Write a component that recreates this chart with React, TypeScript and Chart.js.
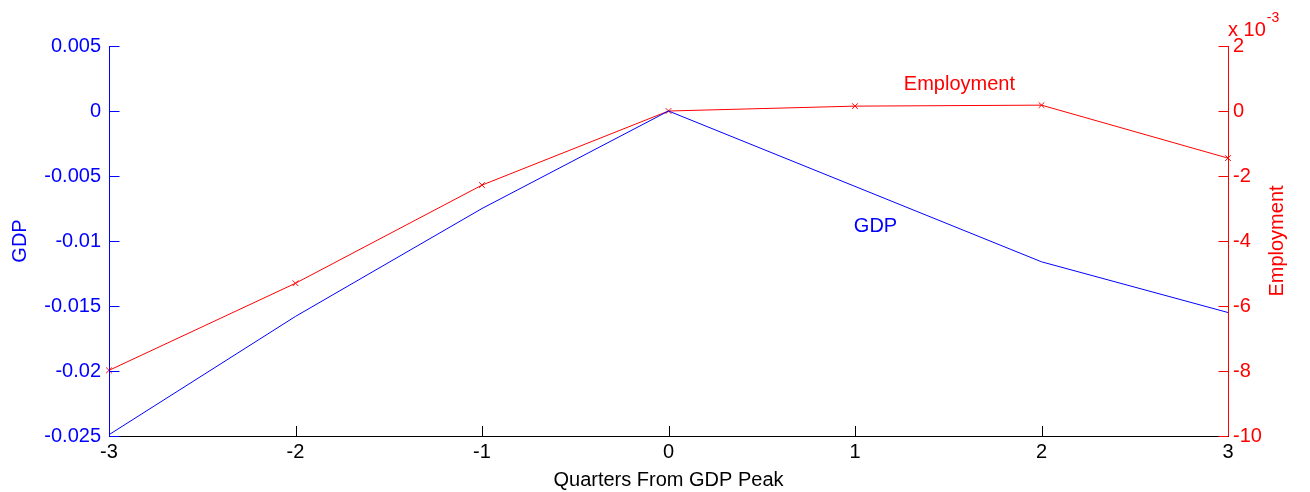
import React, { useEffect, useRef } from "react";
import { Chart, registerables } from "chart.js";

Chart.register(...registerables);

// ---- data ----
const quarters = [-3, -2, -1, 0, 1, 2, 3];
const gdp = [-0.0249, -0.0158, -0.0075, 0, -0.0058, -0.0116, -0.0155];
// Employment, in units of 10^-3
const employment = [-7.98, -5.3, -2.28, 0, 0.15, 0.18, -1.45];

const xTicks = [-3, -2, -1, 0, 1, 2, 3];
const gdpTicks = [0.005, 0, -0.005, -0.01, -0.015, -0.02, -0.025];
const gdpTickLabels = ["0.005", "0", "-0.005", "-0.01", "-0.015", "-0.02", "-0.025"];
const empTicks = [2, 0, -2, -4, -6, -8, -10];
const empTickLabels = ["2", "0", "-2", "-4", "-6", "-8", "-10"];

const BLUE = "#0000ff";
const RED = "#ff0000";
const FONT = '"Liberation Sans", Arial, Helvetica, sans-serif';

// annotation anchors (data space)
const empLabelAt = { x: 1.56, y: 0.83 };
const gdpLabelAt = { x: 1.11, y: -0.0089 };

const decorPlugin = {
  id: "matlabDecor",
  afterDraw(chart: any) {
    const { ctx, chartArea: a, scales } = chart;
    const xs = scales.x;
    const yl = scales.yGDP;
    const yr = scales.yEmp;
    const TL = 10;
    ctx.save();
    ctx.lineWidth = 1;

    // bottom axis + ticks
    ctx.strokeStyle = "#000000";
    ctx.beginPath();
    ctx.moveTo(a.left, Math.round(a.bottom) + 0.5);
    ctx.lineTo(a.right + 1, Math.round(a.bottom) + 0.5);
    for (const v of xTicks) {
      const px = Math.round(xs.getPixelForValue(v)) + 0.5;
      ctx.moveTo(px, a.bottom);
      ctx.lineTo(px, a.bottom - TL);
    }
    ctx.stroke();

    // left axis + ticks
    ctx.strokeStyle = BLUE;
    ctx.beginPath();
    const lx = Math.round(a.left) + 0.5;
    ctx.moveTo(lx, a.top);
    ctx.lineTo(lx, a.bottom);
    for (const v of gdpTicks) {
      const py = Math.round(yl.getPixelForValue(v)) + 0.5;
      ctx.moveTo(lx, py);
      ctx.lineTo(lx + TL, py);
    }
    ctx.stroke();

    // right axis + ticks
    ctx.strokeStyle = RED;
    ctx.beginPath();
    const rx = Math.round(a.right) + 0.5;
    ctx.moveTo(rx, a.top);
    ctx.lineTo(rx, a.bottom);
    for (const v of empTicks) {
      const py = Math.round(yr.getPixelForValue(v)) + 0.5;
      ctx.moveTo(rx, py);
      ctx.lineTo(rx - TL, py);
    }
    ctx.stroke();

    // titles
    ctx.textAlign = "center";
    ctx.textBaseline = "middle";
    ctx.font = `20px ${FONT}`;
    ctx.fillStyle = "#000000";
    ctx.fillText("Quarters From GDP Peak", (a.left + a.right) / 2, 480);

    const midY = (a.top + a.bottom) / 2;
    ctx.save();
    ctx.translate(20, midY);
    ctx.rotate(-Math.PI / 2);
    ctx.fillStyle = BLUE;
    ctx.fillText("GDP", 0, 0);
    ctx.restore();

    ctx.save();
    ctx.translate(1277, midY);
    ctx.rotate(-Math.PI / 2);
    ctx.fillStyle = RED;
    ctx.fillText("Employment", 0, 0);
    ctx.restore();

    // exponent label
    ctx.fillStyle = RED;
    ctx.textAlign = "left";
    ctx.font = `20px ${FONT}`;
    ctx.fillText("x 10", 1228, 30);
    const w = ctx.measureText("x 10").width;
    ctx.font = `14px ${FONT}`;
    ctx.fillText("-3", 1228 + w + 1, 18);

    // in-plot annotations
    ctx.textAlign = "center";
    ctx.font = `20px ${FONT}`;
    ctx.fillStyle = RED;
    ctx.fillText("Employment", xs.getPixelForValue(empLabelAt.x), yr.getPixelForValue(empLabelAt.y));
    ctx.fillStyle = BLUE;
    ctx.fillText("GDP", xs.getPixelForValue(gdpLabelAt.x), yl.getPixelForValue(gdpLabelAt.y));

    ctx.restore();
  },
};

export default function App() {
  const ref = useRef<HTMLCanvasElement | null>(null);

  useEffect(() => {
    document.body.style.margin = "0";
    if (!ref.current) return;
    Chart.defaults.font.family = FONT;
    Chart.defaults.font.size = 20;

    const chart = new Chart(ref.current, {
      type: "line",
      data: {
        datasets: [
          {
            label: "GDP",
            data: quarters.map((q, i) => ({ x: q, y: gdp[i] })),
            yAxisID: "yGDP",
            borderColor: BLUE,
            backgroundColor: BLUE,
            borderWidth: 1,
            pointRadius: 0,
            tension: 0,
            clip: false as any,
          },
          {
            label: "Employment",
            data: quarters.map((q, i) => ({ x: q, y: employment[i] })),
            yAxisID: "yEmp",
            borderColor: RED,
            backgroundColor: RED,
            borderWidth: 1,
            pointStyle: "crossRot",
            pointRadius: 4,
            pointBorderWidth: 1,
            pointBorderColor: RED,
            tension: 0,
            clip: false as any,
          },
        ],
      },
      options: {
        animation: false,
        responsive: true,
        maintainAspectRatio: false,
        layout: { padding: { top: 46, left: 0, right: 0, bottom: 0 } },
        plugins: {
          legend: { display: false },
          tooltip: { enabled: false },
        },
        scales: {
          x: {
            type: "linear",
            position: "bottom",
            min: -3,
            max: 3,
            grid: { display: false, drawTicks: false },
            border: { display: false },
            afterBuildTicks: (s: any) => {
              s.ticks = xTicks.map((v) => ({ value: v }));
            },
            afterFit: (s: any) => {
              s.height = 56;
            },
            ticks: {
              color: "#000000",
              padding: 4,
              maxRotation: 0,
              autoSkip: false,
              font: { size: 20 },
              callback: (v: any) => String(v),
            },
          },
          yGDP: {
            type: "linear",
            position: "left",
            min: -0.025,
            max: 0.005,
            grid: { display: false, drawTicks: false },
            border: { display: false },
            afterBuildTicks: (s: any) => {
              s.ticks = gdpTicks.map((v) => ({ value: v }));
            },
            afterFit: (s: any) => {
              s.width = 109;
            },
            ticks: {
              color: BLUE,
              padding: 8,
              autoSkip: false,
              font: { size: 20 },
              callback: (v: any) => {
                const i = gdpTicks.findIndex((t) => Math.abs(t - v) < 1e-9);
                return i >= 0 ? gdpTickLabels[i] : "";
              },
            },
          },
          yEmp: {
            type: "linear",
            position: "right",
            min: -10,
            max: 2,
            grid: { display: false, drawTicks: false },
            border: { display: false },
            afterBuildTicks: (s: any) => {
              s.ticks = empTicks.map((v) => ({ value: v }));
            },
            afterFit: (s: any) => {
              s.width = 82;
            },
            ticks: {
              color: RED,
              padding: 5,
              autoSkip: false,
              font: { size: 20 },
              callback: (v: any) => {
                const i = empTicks.findIndex((t) => Math.abs(t - v) < 1e-9);
                return i >= 0 ? empTickLabels[i] : "";
              },
            },
          },
        },
      },
      plugins: [decorPlugin],
    });
    return () => chart.destroy();
  }, []);

  return (
    <div style={{ position: "absolute", left: 0, top: 0, width: 1310, height: 492, background: "#ffffff" }}>
      <canvas ref={ref} />
    </div>
  );
}
